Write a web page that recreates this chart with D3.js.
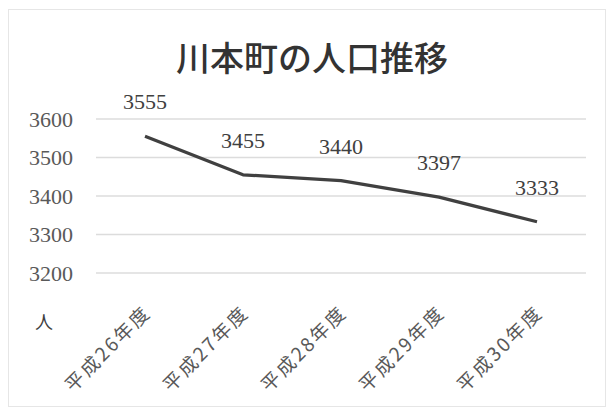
<!DOCTYPE html>
<html>
<head>
<meta charset="utf-8">
<script src="https://cdn.jsdelivr.net/npm/d3@7"></script>
<style>
  html, body { margin: 0; padding: 0; background: #fff; }
  svg { display: block; }
</style>
</head>
<body>
<svg id="chart" width="611" height="409"></svg>
<script>
// Population of Kawamoto town by fiscal year
const categories = ["平成26年度", "平成27年度", "平成28年度", "平成29年度", "平成30年度"];
const population = [3555, 3455, 3440, 3397, 3333];
const yTicks = [3200, 3300, 3400, 3500, 3600];
const titleText = "川本町の人口推移";
const unitText = "人";

const W = 611, H = 409;
const margin = { left: 96, right: 25, top: 119, bottom: 136 };
const serif = "'Liberation Serif', 'DejaVu Serif', serif";
const sans = "'Noto Sans CJK JP', sans-serif";

const svg = d3.select("#chart");

// outer frame
svg.append("rect")
  .attr("x", 8.5).attr("y", 9.5)
  .attr("width", W - 14).attr("height", H - 12)
  .attr("fill", "#fff").attr("stroke", "#e6e6e6").attr("stroke-width", 1);

const x = d3.scalePoint()
  .domain(categories)
  .range([margin.left, W - margin.right])
  .padding(0.5);

const y = d3.scaleLinear()
  .domain([3200, 3600])
  .range([H - margin.bottom, margin.top]);

// gridlines
svg.append("g")
  .selectAll("line")
  .data(yTicks)
  .join("line")
  .attr("x1", margin.left).attr("x2", W - margin.right)
  .attr("y1", d => y(d)).attr("y2", d => y(d))
  .attr("stroke", "#dcdcdc").attr("stroke-width", 1.3);

// y axis labels
const yAxis = d3.axisLeft(y).tickValues(yTicks).tickFormat(d3.format("d")).tickSize(0).tickPadding(0);
const gy = svg.append("g")
  .attr("transform", `translate(${margin.left - 23},0)`)
  .call(yAxis);
gy.select(".domain").remove();
gy.selectAll("text")
  .attr("font-family", serif)
  .attr("font-size", 22)
  .attr("fill", "#595959");

// x axis labels, rotated
const xAxis = d3.axisBottom(x).tickSize(0).tickPadding(0);
const gx = svg.append("g")
  .attr("transform", `translate(0,${H - margin.bottom})`)
  .call(xAxis);
gx.select(".domain").remove();
gx.selectAll("text")
  .attr("font-family", sans)
  .attr("font-size", 19)
  .attr("letter-spacing", 2.5)
  .attr("fill", "#595959")
  .attr("text-anchor", "end")
  .attr("dy", "0.35em")
  .attr("transform", "translate(2,36) rotate(-45)");

// unit label
svg.append("text")
  .attr("x", 35).attr("y", 329)
  .attr("font-family", sans)
  .attr("font-size", 18)
  .attr("fill", "#404040")
  .text(unitText);

// population line
const line = d3.line()
  .x((d, i) => x(categories[i]))
  .y(d => y(d));

svg.append("path")
  .datum(population)
  .attr("d", line)
  .attr("fill", "none")
  .attr("stroke", "#404040")
  .attr("stroke-width", 3.2)
  .attr("stroke-linejoin", "round");

// value labels
svg.append("g")
  .selectAll("text")
  .data(population)
  .join("text")
  .attr("x", (d, i) => x(categories[i]))
  .attr("y", d => y(d) - 27)
  .attr("text-anchor", "middle")
  .attr("font-family", serif)
  .attr("font-size", 22)
  .attr("fill", "#404040")
  .text(d => d);

// title
svg.append("text")
  .attr("x", 312).attr("y", 71)
  .attr("text-anchor", "middle")
  .attr("font-family", sans)
  .attr("font-size", 34)
  .attr("font-weight", 500)
  .attr("fill", "#333")
  .text(titleText);
</script>
</body>
</html>
